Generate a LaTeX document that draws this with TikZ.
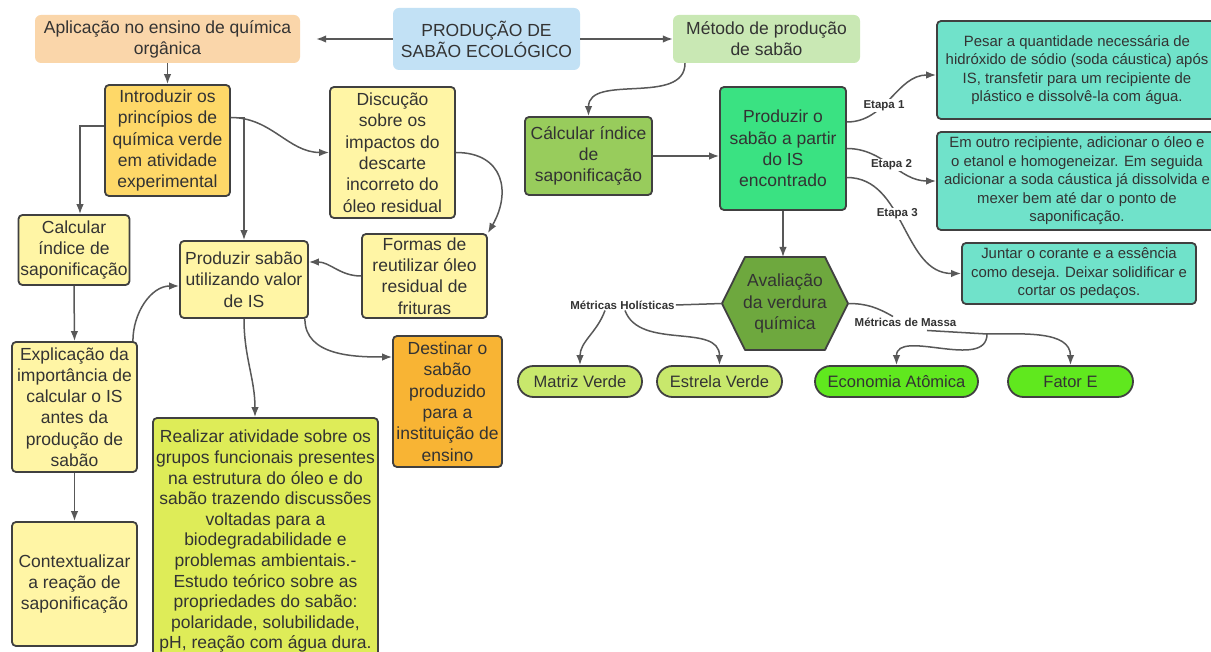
\documentclass[tikz,border=0pt]{standalone}
\usepackage{fontspec}
\setmainfont{Liberation Sans}
\usetikzlibrary{arrows.meta, calc}

\definecolor{pessego}{RGB}{250,214,170}
\definecolor{azulclaro}{RGB}{194,225,245}
\definecolor{verdeclaro}{RGB}{201,232,180}
\definecolor{ouro}{RGB}{254,216,104}
\definecolor{amareloclaro}{RGB}{255,245,165}
\definecolor{laranja}{RGB}{248,180,52}
\definecolor{limao}{RGB}{222,236,88}
\definecolor{verdemedio}{RGB}{152,204,92}
\definecolor{verdevivo}{RGB}{58,226,130}
\definecolor{turquesa}{RGB}{112,226,202}
\definecolor{verdeescuro}{RGB}{110,168,62}
\definecolor{verdepalido}{RGB}{200,232,108}
\definecolor{verdeneon}{RGB}{96,232,30}
\definecolor{contorno}{RGB}{64,64,64}
\definecolor{cinzaseta}{RGB}{88,88,88}
\definecolor{texto}{RGB}{51,51,51}

\begin{document}
\begin{tikzpicture}[x=1pt,y=-1pt,
    caixa/.style={draw=contorno, line width=1.8pt, rounded corners=4pt, align=center,
      text=texto, inner sep=2pt, font=\fontsize{17.5}{21.3}\selectfont},
    topo/.style={rounded corners=6pt, align=center, text=texto, inner sep=2pt,
      font=\fontsize{17.5}{21}\selectfont},
    etapa/.style={caixa, fill=turquesa, font=\fontsize{14.9}{18.5}\selectfont},
    pilula/.style={draw=contorno, line width=1.8pt, rounded corners=15.5pt,
      minimum height=31pt, text=texto, font=\fontsize{16.5}{20}\selectfont},
    rotulo/.style={fill=white, inner sep=1pt, text=texto,
      font=\bfseries\fontsize{11.5}{13}\selectfont},
    liga/.style={draw=cinzaseta, line width=1.5pt},
    seta/.style={liga, -{Latex[length=10pt,width=7.5pt]}}]

        \fill[white] (0,0) rectangle (1211,652);
        \useasboundingbox (0,0) rectangle (1211,652);

        % linha de cima
        \node[topo, fill=pessego, minimum width=265pt, minimum height=48pt] (apl) at (167.5,39)
            {Aplicação no ensino de química\\orgânica};
        \node[topo, fill=azulclaro, minimum width=187pt, minimum height=62pt] (prod) at (486.5,39)
            {PRODUÇÃO DE\\SABÃO ECOLÓGICO};
        \node[topo, fill=verdeclaro, minimum width=187pt, minimum height=48pt] (metodo) at (766.5,39)
            {Método de produção\\de sabão};

        % lado esquerdo
        \node[caixa, fill=ouro, minimum width=125pt, minimum height=111pt] (intro) at (167.5,140.5)
            {Introduzir os\\princípios de\\química verde\\em atividade\\experimental};
        \node[caixa, fill=amareloclaro, minimum width=125pt, minimum height=131pt] (disc) at (392.5,152.5)
            {Discução\\sobre os\\impactos do\\descarte\\incorreto do\\óleo residual};
        \node[caixa, fill=amareloclaro, minimum width=108pt, minimum height=70pt] (calc) at (74,250)
            {Calcular\\índice de\\saponificação};
        \node[caixa, fill=amareloclaro, minimum width=125pt, minimum height=130pt] (explic) at (74.5,407)
            {Explicação da\\importância de\\calcular o IS\\antes da\\produção de\\sabão};
        \node[caixa, fill=amareloclaro, minimum width=125pt, minimum height=124pt] (context) at (74.5,584)
            {Contextualizar\\a reação de\\saponificação};
        \node[caixa, fill=amareloclaro, minimum width=128pt, minimum height=77pt] (prodis) at (244,279.5)
            {Produzir sabão\\utilizando valor\\de IS};
        \node[caixa, fill=amareloclaro, minimum width=125pt, minimum height=84pt] (formas) at (424.5,276)
            {Formas de\\reutilizar óleo\\residual de\\frituras};
        \node[caixa, fill=laranja, minimum width=109pt, minimum height=131pt] (dest) at (447.5,401.5)
            {Destinar o\\sabão\\produzido\\para a\\instituição de\\ensino};
        \node[caixa, fill=limao, minimum width=225pt, minimum height=247pt,
            font=\fontsize{17.5}{20.6}\selectfont] (realiz) at (265.5,541.5)
            {Realizar atividade sobre os\\grupos funcionais presentes\\na estrutura do óleo e do\\sabão trazendo discussões\\voltadas para a\\biodegradabilidade e\\problemas ambientais.-\\Estudo teórico sobre as\\propriedades do sabão:\\polaridade, solubilidade,\\pH, reação com água dura.};

        % lado direito
        \node[caixa, fill=verdemedio, minimum width=127pt, minimum height=78pt] (calcr) at (588.5,156)
            {Cálcular índice\\de\\saponificação};
        \node[caixa, fill=verdevivo, minimum width=126pt, minimum height=123pt] (prodo) at (783,148.5)
            {Produzir o\\sabão a partir\\do IS\\encontrado};
        \node[etapa, minimum width=280pt, minimum height=98pt] (pesar) at (1077,70)
            {Pesar a quantidade necessária de\\hidróxido de sódio (soda cáustica) após\\IS, transfetir para um recipiente de\\plástico e dissolvê-la com água.};
        \node[etapa, minimum width=280pt, minimum height=98pt] (outro) at (1077,181)
            {Em outro recipiente, adicionar o óleo e\\o etanol e homogeneizar. Em seguida\\adicionar a soda cáustica já dissolvida e\\mexer bem até dar o ponto de\\saponificação.};
        \node[etapa, minimum width=234pt, minimum height=61pt] (juntar) at (1079,273.5)
            {Juntar o corante e a essência\\como deseja. Deixar solidificar e\\cortar os pedaços.};

        % hexagono
        \coordinate (avalc) at (785,303.5);
        \filldraw[fill=verdeescuro, draw=contorno, line width=1.8pt, line join=round]
            ($(avalc)+(-63,0)$) -- ($(avalc)+(-40,-46.5)$) -- ($(avalc)+(40,-46.5)$)
            -- ($(avalc)+(63,0)$) -- ($(avalc)+(40,46.5)$) -- ($(avalc)+(-40,46.5)$) -- cycle;
        \node[align=center, text=texto, outer sep=0pt, minimum width=126pt, minimum height=93pt,
            font=\fontsize{17.5}{21.3}\selectfont] (aval) at (avalc) {Avaliação\\da verdura\\química};

        \node[pilula, fill=verdepalido, minimum width=124pt] (mv) at (580,381.5) {Matriz Verde};
        \node[pilula, fill=verdepalido, minimum width=125pt] (ev) at (719.5,381.5) {Estrela Verde};
        \node[pilula, fill=verdeneon, minimum width=163pt] (ea) at (896.5,381.5) {Economia Atômica};
        \node[pilula, fill=verdeneon, minimum width=125pt] (fe) at (1070.5,381.5) {Fator E};

        \node[rotulo] (mh) at (622.5,305) {Métricas Holísticas};
        \node[rotulo] (mm) at (905.5,322) {Métricas de Massa};
        \coordinate (msplit) at (987,334);

        % ligacoes
        \draw[seta] (prod.west) -- ([xshift=16pt]apl.east);
        \draw[seta] (prod.east) -- (metodo.west);
        \draw[seta] (apl.south) -- (intro.north);
        \draw[seta] ([yshift=23pt]intro.east) to[out=0,in=180] (disc.west);
        \draw[seta] ([yshift=23pt]intro.east) -| (prodis.north);
        \draw[seta] ([yshift=14.5pt]intro.west) -| ([xshift=6pt]calc.north);
        \draw[seta] (calc.south) -- (explic.north);
        \draw[seta] (explic.south) -- (context.north);
        \draw[seta] ([xshift=-5pt]explic.north east) to[out=90,in=180] ([yshift=-6.5pt]prodis.west);
        \draw[seta] (disc.east) to[out=0,in=60,looseness=1.4] (formas.north east);
        \draw[seta] (formas.west) to[out=180,in=0] ([yshift=17.5pt]prodis.east);
        \draw[seta] ([xshift=-4pt]prodis.south east) to[out=-90,in=180] ([yshift=44.5pt]dest.west);
        \draw[seta] (prodis.south) to[out=-90,in=90] ([xshift=-10.5pt]realiz.north);

        \draw[seta] ([xshift=-81.5pt]metodo.south) to[out=-90,in=90] (calcr.north);
        \draw[seta] (calcr.east) -- (calcr.east -| prodo.west);
        \draw[seta] ([yshift=26.5pt]prodo.east) to[out=0,in=180] node[rotulo,pos=0.4] {Etapa 1} ([yshift=-5pt]pesar.west);
        \draw[seta] (prodo.east) to[out=0,in=180] node[rotulo,pos=0.5] {Etapa 2} (outro.west);
        \draw[seta] ([yshift=-29pt]prodo.east) to[out=0,in=180] node[rotulo,pos=0.42] {Etapa 3} (juntar.west);
        \draw[seta] (prodo.south) -- (prodo.south |- aval.north);

        \draw[liga] (aval.west) -- (mh.east);
        \draw[seta] ([xshift=-17.5pt]mh.south) to[out=-110,in=90] (mv.north);
        \draw[seta] ([xshift=2.5pt]mh.south) to[out=-70,in=90] (ev.north);
        \draw[liga] (aval.east) to[out=0,in=150] ([xshift=-12.5pt]mm.north);
        \draw[liga] ([xshift=21.5pt,yshift=-3pt]mm.south) -- (msplit);
        \draw[seta] (msplit) to[out=-90,in=90] (ea.north);
        \draw[seta] (msplit) to[out=0,in=90] (fe.north);
      \end{tikzpicture}
\end{document}
